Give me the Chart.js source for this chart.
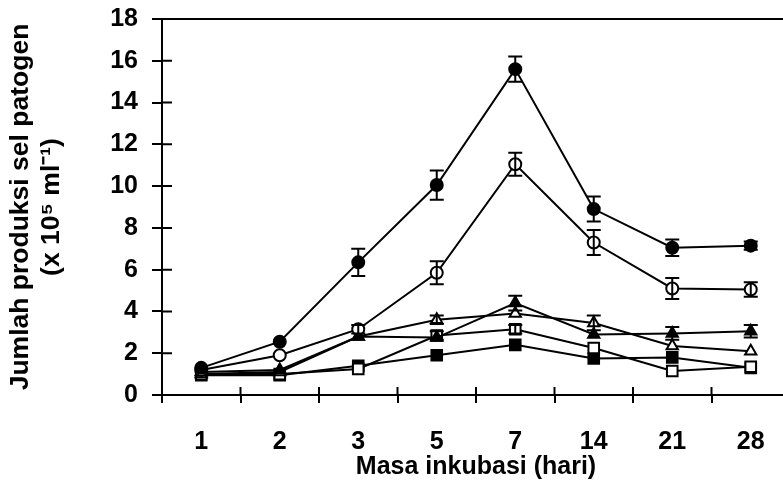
<!DOCTYPE html>
<html>
<head>
<meta charset="utf-8">
<script src="https://cdn.jsdelivr.net/npm/chart.js@4"></script>
<style>
  html, body { margin: 0; padding: 0; background: #fff; width: 783px; height: 482px; overflow: hidden; }
  #wrap { width: 790px; height: 482px; }
</style>
</head>
<body>
<div id="wrap"><canvas id="chart"></canvas></div>
<script>
const days = ['1', '2', '3', '5', '7', '14', '21', '28'];
const yTicks = [0, 2, 4, 6, 8, 10, 12, 14, 16, 18];

// six treatments (x 10^5 ml^-1)
const filledCircle = [1.3, 2.55, 6.35, 10.05, 15.6, 8.9, 7.05, 7.15];
const openCircle = [1.2, 1.9, 3.15, 5.85, 11.05, 7.3, 5.1, 5.05];
const filledTriangle = [1.1, 1.2, 2.8, 2.75, 4.4, 2.9, 2.95, 3.05];
const openTriangle = [1.0, 1.1, 2.8, 3.6, 3.9, 3.45, 2.35, 2.1];
const openSquare = [1.0, 1.0, 1.25, 2.85, 3.15, 2.25, 1.15, 1.35];
const filledSquare = [0.95, 0.95, 1.4, 1.9, 2.4, 1.75, 1.8, 1.3];

// standard errors
const errFilledCircle = [0, 0, 0.65, 0.7, 0.6, 0.6, 0.4, 0.2];
const errOpenCircle = [0, 0, 0.2, 0.55, 0.55, 0.6, 0.5, 0.35];
const errFilledTriangle = [0, 0, 0, 0, 0.35, 0, 0.3, 0.3];
const errOpenTriangle = [0, 0, 0, 0.2, 0, 0.35, 0, 0];
const errOpenSquare = [0, 0, 0, 0.2, 0.2, 0, 0, 0];
const errFilledSquare = [0, 0, 0, 0, 0, 0, 0, 0];

const FONT = 'Liberation Sans, Arial, sans-serif';

function series(values, errs, style, filled, radius) {
  return {
    data: values,
    errors: errs,
    borderColor: '#000',
    borderWidth: 2,
    pointStyle: style,
    pointRadius: radius,
    pointBorderWidth: 2,
    pointBorderColor: '#000',
    pointBackgroundColor: filled ? '#000' : '#fff',
    tension: 0
  };
}

const errorBars = {
  id: 'errorBars',
  afterDatasetsDraw(chart) {
    const ctx = chart.ctx;
    const ys = chart.scales.y;
    ctx.save();
    ctx.strokeStyle = '#000';
    ctx.lineWidth = 2;
    chart.data.datasets.forEach((ds, di) => {
      const meta = chart.getDatasetMeta(di);
      ds.data.forEach((v, i) => {
        const e = ds.errors[i];
        if (!e) return;
        const x = meta.data[i].x;
        const top = ys.getPixelForValue(v + e);
        const bot = ys.getPixelForValue(v - e);
        ctx.beginPath();
        ctx.moveTo(x, top); ctx.lineTo(x, bot);
        ctx.moveTo(x - 7, top); ctx.lineTo(x + 7, top);
        ctx.moveTo(x - 7, bot); ctx.lineTo(x + 7, bot);
        ctx.stroke();
      });
    });
    ctx.restore();
  }
};

// top border and the inner half of the crossing tick marks
const frame = {
  id: 'frame',
  afterDraw(chart) {
    const ctx = chart.ctx;
    const a = chart.chartArea;
    const xs = chart.scales.x, ys = chart.scales.y;
    ctx.save();
    ctx.strokeStyle = '#000';
    ctx.lineWidth = 2;
    ctx.beginPath();
    ctx.moveTo(a.left, a.top); ctx.lineTo(a.right, a.top);
    ys.ticks.forEach((t, i) => {
      const y = ys.getPixelForTick(i);
      ctx.moveTo(a.left, y); ctx.lineTo(a.left + 10, y);
    });
    const step = (xs.right - xs.left) / days.length;
    for (let i = 1; i <= days.length; i++) {
      const x = xs.left + i * step;
      ctx.moveTo(x, a.bottom); ctx.lineTo(x, a.bottom - 8);
    }
    ctx.stroke();
    ctx.restore();
  }
};

new Chart(document.getElementById('chart'), {
  type: 'line',
  data: {
    labels: days,
    datasets: [
      series(filledCircle, errFilledCircle, 'circle', true, 6),
      series(openCircle, errOpenCircle, 'circle', false, 6),
      series(filledTriangle, errFilledTriangle, 'triangle', true, 6.5),
      series(openTriangle, errOpenTriangle, 'triangle', false, 6.5),
      series(openSquare, errOpenSquare, 'rect', false, 7.5),
      series(filledSquare, errFilledSquare, 'rect', true, 7.5)
    ]
  },
  options: {
    responsive: true,
    maintainAspectRatio: false,
    animation: false,
    layout: { autoPadding: false, padding: { top: 19, right: 0, left: 0, bottom: 0 } },
    plugins: {
      legend: { display: false },
      tooltip: { enabled: false }
    },
    scales: {
      x: {
        offset: true,
        grid: { display: true, drawOnChartArea: false, offset: true, color: '#000', lineWidth: 2, tickLength: 8 },
        border: { display: true, color: '#000', width: 2 },
        ticks: { color: '#000', padding: 24, font: { family: FONT, size: 25, weight: 'bold' } },
        title: {
          display: true, text: 'Masa inkubasi (hari)', color: '#000',
          padding: { top: 0, bottom: 0 },
          font: { family: FONT, size: 25, weight: 'bold', lineHeight: 1.2 }
        },
        afterFit(s) { s.height = 87; s.paddingLeft = 0; s.paddingRight = 0; }
      },
      y: {
        min: 0, max: 18,
        afterBuildTicks(s) { s.ticks = yTicks.map(v => ({ value: v })); },
        grid: { display: true, drawOnChartArea: false, color: '#000', lineWidth: 2, tickLength: 10 },
        border: { display: true, color: '#000', width: 2 },
        ticks: { color: '#000', padding: 14, font: { family: FONT, size: 25, weight: 'bold' } },
        title: {
          display: true, text: ['Jumlah produksi sel patogen', '(x 10\u2075 ml\u207B\u00B9)'], color: '#000',
          padding: { top: 5, bottom: 0 },
          font: { family: FONT, size: 26.5, weight: 'bold', lineHeight: 1.17 }
        },
        afterFit(s) { s.width = 162; s.paddingTop = 0; s.paddingBottom = 0; }
      }
    }
  },
  plugins: [errorBars, frame]
});
</script>
</body>
</html>
